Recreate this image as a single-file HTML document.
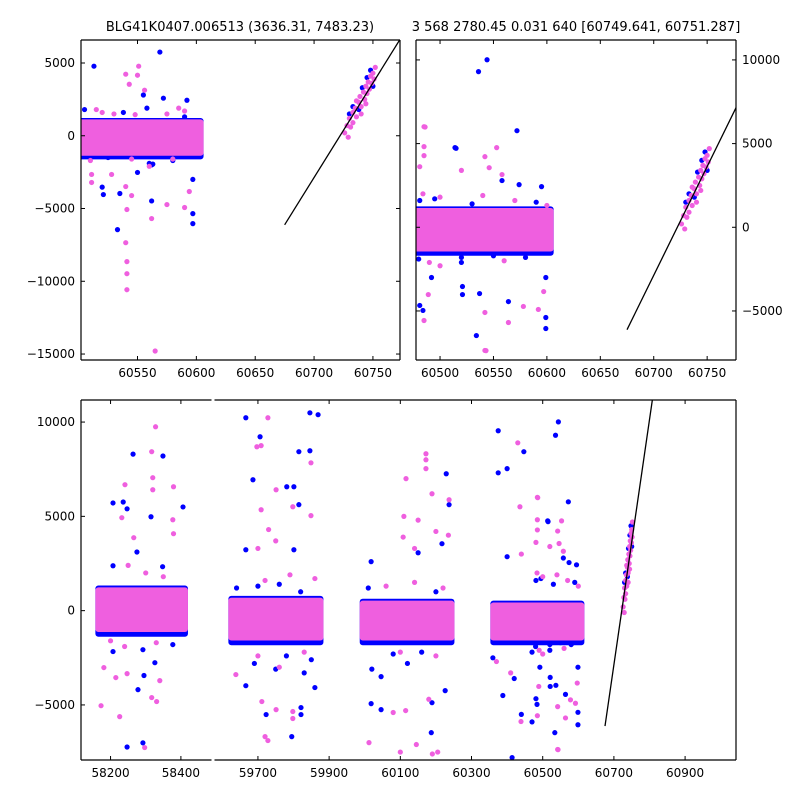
<!DOCTYPE html>
<html><head><meta charset="utf-8"><style>
html,body{margin:0;padding:0;background:#fff;}
svg text{font-family:"DejaVu Sans","Liberation Sans",sans-serif;font-size:12px;fill:#000;}
</style></head><body>
<svg id="chart" width="800" height="800" viewBox="0 0 800 800" xmlns="http://www.w3.org/2000/svg">
<rect width="800" height="800" fill="#fff"/>
<text x="240" y="31" text-anchor="middle" style="font-size:13px">BLG41K0407.006513 (3636.31, 7483.23)</text>
<text x="576" y="31" text-anchor="middle" style="font-size:13px">3 568 2780.45 0.031 640 [60749.641, 60751.287]</text>
<g id="layer"></g>
</svg>
<script>
// ---- data ----
const tlBlue=[[60569,5750],[60513,4780],[60555,2800],[60572,2580],[60592,2440],[60558,1900],[60538,1600],[60520,-3530],[60521,-4040],[60535,-3970],[60550,-2520],[60562,-4480],[60533,-6450],[60597,-5350],[60597,-6040],[60597,-3000],[60562,-2000],[60580,-1700],[60505,1800],[60590,1300],[60560,-1900],[60563,-1950],[60525,-1500],[60595,-1350]];
const tlPink=[[60551,4780],[60540,4230],[60550,4160],[60543,3540],[60556,3130],[60540,-3490],[60545,-4110],[60541,-5070],[60562,-5690],[60575,-4730],[60590,-4930],[60594,-3830],[60540,-7350],[60541,-8650],[60541,-9480],[60541,-10580],[60565,-14790],[60511,-2660],[60511,-3210],[60528,-2660],[60515,1800],[60585,1900],[60560,-2100],[60520,1600],[60530,1500],[60548,1450],[60575,1500],[60590,1700],[60510,-1700],[60545,-1600],[60580,-1600]];
const trBlue=[[60544,10010],[60536,9300],[60572,5770],[60514,4760],[60574,2550],[60595,2430],[60558,2790],[60481,-4670],[60484,-4970],[60534,-6470],[60599,-5390],[60599,-6050],[60521,-3540],[60521,-4020],[60537,-3960],[60564,-4440],[60599,-3000],[60492,-3000],[60375,9540],[60375,7310],[60400,7530],[60447,8430],[60515,4720],[60400,2860],[60388,-4500],[60414,-7790],[60440,-5500],[60470,-5900],[60360,-2500],[60420,-3600],[60481,1600],[60495,1700],[60530,1400],[60590,1500],[60480,-1900],[60520,-1800],[60550,-1700],[60580,-1800],[60470,-2200],[60520,-2100]];
const trPink=[[60485,6010],[60485,4820],[60485,4280],[60481,3620],[60542,4220],[60546,3560],[60553,4760],[60558,3150],[60542,-5090],[60542,-7360],[60564,-5690],[60578,-4730],[60592,-4910],[60597,-3840],[60485,-5570],[60489,-4020],[60430,8900],[60486,5990],[60436,5510],[60520,3400],[60440,3000],[60439,-5880],[60543,-7370],[60370,-2700],[60410,-3300],[60484,2000],[60500,1800],[60540,1900],[60570,1600],[60600,1300],[60490,-2100],[60560,-2000],[60500,-2300]];
const bBlue=[[58264,8300],[58349,8200],[58207,5710],[58236,5760],[58247,5400],[58315,4980],[58406,5500],[58275,3110],[58207,2380],[58348,2330],[58278,-4190],[58295,-3440],[58247,-7230],[58292,-7010],[58207,-2170],[58326,-2760],[58377,-1800],[58292,-2070],
[59666,10230],[59846,10490],[59869,10390],[59706,9220],[59815,8430],[59846,8480],[59686,6940],[59781,6570],[59801,6570],[59815,5620],[59666,3230],[59801,3230],[59666,-3980],[59723,-5510],[59795,-6680],[59821,-5140],[59821,-5510],[59860,-4080],[59690,-2800],[59750,-3100],[59830,-3300],[59640,1200],[59700,1300],[59760,1400],[59820,1000],[59780,-2400],[59850,-2600],
[60229,7260],[60237,5620],[60217,3550],[60150,3070],[60018,2600],[60018,-4930],[60046,-5250],[60189,-4880],[60187,-6470],[60226,-4240],[60020,-3100],[60046,-3500],[60120,-2800],[60010,1200],[60200,1000],[60080,-2300],[60160,-2200]];
const bPink=[[58328,9750],[58317,8430],[58320,7050],[58320,6410],[58241,6680],[58379,6570],[58232,4930],[58377,4820],[58379,4080],[58266,3870],[58173,-5040],[58181,-3020],[58215,-3550],[58226,-5620],[58247,-3340],[58317,-4610],[58331,-4820],[58340,-3710],[58297,-7260],[58250,2400],[58300,2000],[58350,1800],[58200,-1600],[58240,-1900],[58330,-1700],
[59728,10230],[59697,8690],[59709,8750],[59849,7840],[59751,6410],[59709,5350],[59798,5510],[59849,5040],[59730,4300],[59750,3700],[59700,3300],[59638,-3390],[59711,-4820],[59751,-5250],[59798,-5350],[59798,-5720],[59720,-6680],[59728,-6890],[59760,-3000],[59720,1600],[59790,1900],[59860,1700],[59700,-2400],[59830,-2200],
[60172,8320],[60172,8000],[60172,7530],[60116,7000],[60189,6200],[60237,5880],[60110,5000],[60150,4800],[60108,3900],[60140,3300],[60200,4200],[60235,4000],[60012,-7000],[60100,-7500],[60145,-7100],[60190,-7600],[60205,-7500],[60080,-5400],[60115,-5300],[60180,-4700],[60060,1300],[60140,1500],[60220,1200],[60100,-2200],[60200,-2400]];
const s5Blue=[[60730,1500],[60733,2000],[60741,3300],[60745,4000],[60748,4500],[60738,1800],[60750,3400]];
const s5Pink=[[60726,200],[60728,700],[60730,1200],[60731,600],[60733,1600],[60735,1900],[60736,1300],[60738,2300],[60739,2700],[60740,2000],[60742,3000],[60743,2500],[60744,3400],[60745,2900],[60746,3700],[60747,3200],[60748,4100],[60749,3600],[60750,4300],[60751,3900],[60752,4700],[60736,2400],[60740,1500],[60744,2200],[60733,900],[60729,-100]];
// cores: [start, end, low, high]
const tlCores=[[60502,60604,-1200,950]];
const trCores=[[60477,60604,-1300,1000]];
const bCores=[[58164,58413,-1000,1100],[59624,59877,-1450,550],[59993,60245,-1450,400],[60360,60610,-1450,300]];
// fitted line
const lineX=[60675,61100];
const lineY0=-6120, lineSlope=130;
// ticks
const tlXTicks=[60550,60600,60650,60700,60750];
const tlYTicks=[5000,0,-5000,-10000,-15000];
const trXTicks=[60500,60550,60600,60650,60700,60750];
const trYTicks=[10000,5000,0,-5000];
const blXTicks=[58200,58400];
const brXTicks=[59700,59900,60100,60300,60500,60700,60900];
const bYTicks=[10000,5000,0,-5000];

const NS="http://www.w3.org/2000/svg";
const layer=document.getElementById('layer');
const BLUE="#0000ff", PINK="#ef5fdf";
function mk(tag,attrs,parent){const e=document.createElementNS(NS,tag);for(const k in attrs)e.setAttribute(k,attrs[k]);(parent||layer).appendChild(e);return e;}
function fmt(v){return v<0?"\u2212"+Math.abs(v):String(v);}

function panel(name,px0,px1,py0,py1,x0,x1,y0,y1,opts){
  const xs=v=>px0+(v-x0)/(x1-x0)*(px1-px0);
  const ys=v=>py1-(v-y0)/(y1-y0)*(py1-py0);
  const g=mk('g',{});
  
  
  const cid='clip-'+name;
  const cp=mk('clipPath',{id:cid},g);
  mk('rect',{x:px0,y:py0,width:px1-px0,height:py1-py0},cp);
  const pg=mk('g',{'clip-path':'url(#'+cid+')'},g);
  opts.cores.forEach(c=>{
    const r=mk('rect',{x:xs(c[0])-2.5,y:ys(c[3]+100)-2.5,width:xs(c[1])-xs(c[0])+5,height:ys(c[2]-250)-ys(c[3]+100)+5,rx:3,fill:BLUE},pg);
    
    
  });
  const dots=(arr,col,nm)=>arr.forEach(p=>{
    const c=mk('circle',{cx:xs(p[0]),cy:ys(p[1]),r:2.6,fill:col},pg);
    
    
  });
  opts.blue.forEach(a=>dots(a,BLUE,'blue-point'));
  opts.cores.forEach(c=>{
    const r=mk('rect',{x:xs(c[0])-2.5,y:ys(c[3])-2.5,width:xs(c[1])-xs(c[0])+5,height:ys(c[2])-ys(c[3])+5,rx:3,fill:PINK},pg);
    
    
  });
  opts.pink.forEach(a=>dots(a,PINK,'pink-point'));
  const ln=mk('line',{x1:xs(lineX[0]),y1:ys(lineY0),x2:xs(lineX[1]),y2:ys(lineY0+lineSlope*(lineX[1]-lineX[0])),stroke:'#000','stroke-width':1.3},pg);
  
  
  const sides=opts.sides||'tblr';
  const st={stroke:'#000','stroke-width':1.2};
  if(sides.includes('t'))mk('line',Object.assign({x1:px0,y1:py0,x2:px1,y2:py0},st),g);
  if(sides.includes('b'))mk('line',Object.assign({x1:px0,y1:py1,x2:px1,y2:py1},st),g);
  if(sides.includes('l'))mk('line',Object.assign({x1:px0,y1:py0,x2:px0,y2:py1},st),g);
  if(sides.includes('r'))mk('line',Object.assign({x1:px1,y1:py0,x2:px1,y2:py1},st),g);
  opts.xt.forEach(t=>{
    const x=xs(t);
    mk('line',{x1:x,y1:py1,x2:x,y2:py1-4,stroke:'#000'},g);
    mk('line',{x1:x,y1:py0,x2:x,y2:py0+4,stroke:'#000'},g);
    const tx=mk('text',{x:x,y:py1+17,'text-anchor':'middle'},g);
    tx.textContent=fmt(t);
    
    
  });
  (opts.yt||[]).forEach(t=>{
    const y=ys(t);
    if(sides.includes('l'))mk('line',{x1:px0,y1:y,x2:px0+4,y2:y,stroke:'#000'},g);
    if(sides.includes('r'))mk('line',{x1:px1,y1:y,x2:px1-4,y2:y,stroke:'#000'},g);
    const right=opts.yRight;
    const tx=mk('text',{x:right?px1+6:px0-6,y:y+4,'text-anchor':right?'start':'end'},g);
    tx.textContent=fmt(t);
    
    
  });
  return g;
}
panel('top-left-panel',81,400,40,360,60502,60773,-15410,6580,{cores:tlCores,blue:[tlBlue,s5Blue],pink:[tlPink,s5Pink],xt:tlXTicks,yt:tlYTicks});
panel('top-right-panel',416,736,40,360,60477.5,60777,-7930,11190,{cores:trCores,blue:[trBlue,s5Blue],pink:[trPink,s5Pink],xt:trXTicks,yt:trYTicks,yRight:true});
panel('bottom-left-panel',81,211.5,400,760,58116,58487,-7920,11170,{cores:bCores,blue:[bBlue],pink:[bPink],xt:blXTicks,yt:bYTicks,sides:'tbl'});
panel('bottom-right-panel',214.5,736,400,760,59578,61043,-7920,11170,{cores:bCores,blue:[bBlue,trBlue,s5Blue],pink:[bPink,trPink,s5Pink],xt:brXTicks,yt:[],sides:'tbr'});
</script>
</body></html>
